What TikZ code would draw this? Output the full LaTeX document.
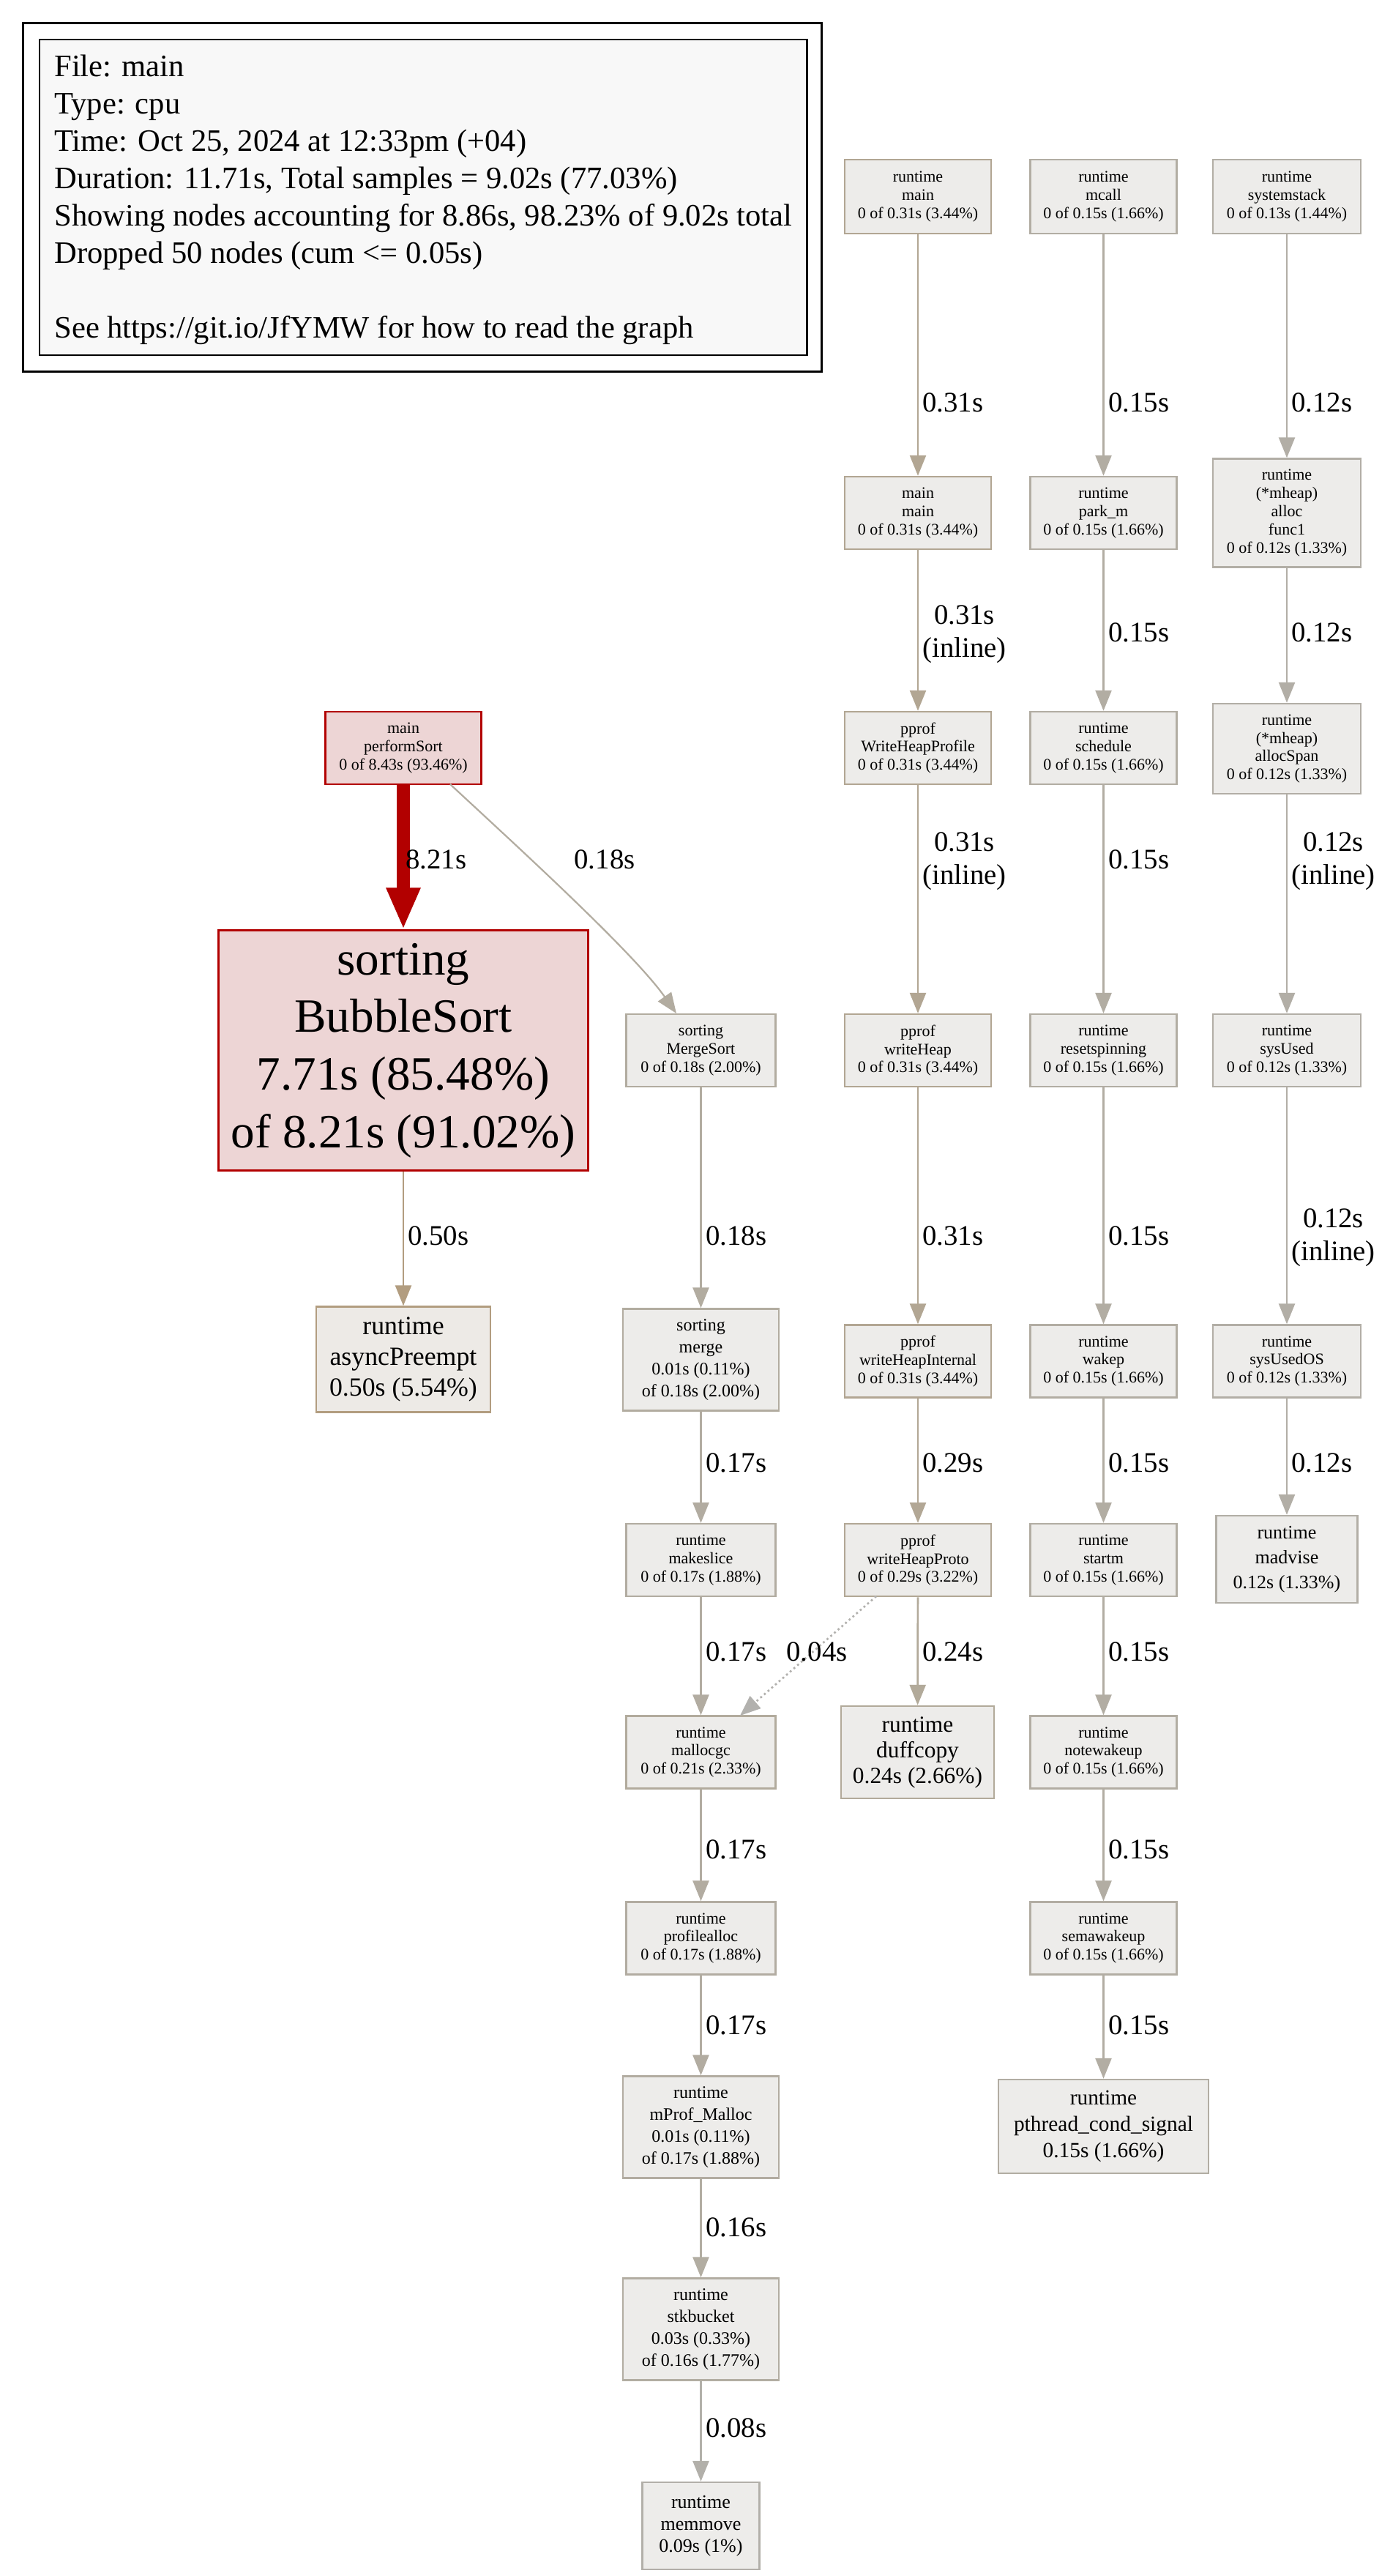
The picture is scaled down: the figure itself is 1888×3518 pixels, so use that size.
\documentclass[tikz,border=0pt]{standalone}
\usepackage{fontspec}
\setmainfont{Liberation Serif}
\usetikzlibrary{arrows.meta}
\definecolor{cFill}{HTML}{EDECEA}
\definecolor{cRedFill}{HTML}{EDD5D5}
\definecolor{cApFill}{HTML}{EDEAE6}
\definecolor{cLegFill}{HTML}{F8F8F8}
\definecolor{cRed}{HTML}{B20000}
\definecolor{cAp}{HTML}{B29D80}
\definecolor{cA}{HTML}{B2A693}
\definecolor{cAp2}{HTML}{B2A795}
\definecolor{cDuff}{HTML}{B2AA9A}
\definecolor{cB}{HTML}{B2ADA3}
\definecolor{cSys}{HTML}{B2AEA5}
\definecolor{cC}{HTML}{B2AEA6}
\definecolor{cMS}{HTML}{B2ACA0}
\definecolor{cMk}{HTML}{B2ACA1}
\definecolor{cMg}{HTML}{B2AB9D}
\definecolor{cStk}{HTML}{B2ADA2}
\definecolor{cMem}{HTML}{B2AFA9}
\definecolor{cE08}{HTML}{B2B0AA}
\definecolor{cE04}{HTML}{B2B1AE}
\newcommand\fsS{\fontsize{11pt}{12.4pt}\selectfont}
\newcommand\fsLeg{\fontsize{21.3pt}{25.5pt}\selectfont}
\newcommand\fsEdge{\fontsize{19.4pt}{22.4pt}\selectfont}
\newcommand\fsBig{\fontsize{32.6pt}{39.3pt}\selectfont}
\newcommand\fsAP{\fontsize{17.9pt}{20.8pt}\selectfont}
\newcommand\fsDuff{\fontsize{15.7pt}{17.5pt}\selectfont}
\newcommand\fsPth{\fontsize{14.7pt}{18pt}\selectfont}
\newcommand\fsMad{\fontsize{13pt}{17pt}\selectfont}
\newcommand\fsMid{\fontsize{12pt}{15pt}\selectfont}
\newcommand\fsMem{\fontsize{13pt}{15pt}\selectfont}
\tikzset{
  gn/.style={draw=#1, fill=cFill, line width=1.25pt, inner sep=0pt, align=center, font=\fsS},
  ea/.style={draw=#1, line width=1.35pt, -{Triangle[length=14pt,width=11pt]}},
  el/.style={font=\fsEdge, align=center, inner sep=0pt, anchor=west},
  elc/.style={font=\fsEdge, align=center, inner sep=0pt},
}
\begin{document}
\begin{tikzpicture}[x=0.5pt,y=-0.5pt]
\useasboundingbox[fill=white] (0,0) rectangle (1888,3518);

% legend
\node[draw=black, line width=1.2pt, fill=white, minimum width=545.5pt, minimum height=238pt, inner sep=0pt] (legout) at (577,269.4) {};
\node[draw=black, line width=1.2pt, fill=cLegFill, minimum width=524.2pt, minimum height=215.5pt, inner sep=0pt] (legin) at (578.1,269.4) {};
\node[anchor=west, align=left, inner sep=0pt, font=\fsLeg] (legtext) at (74,272.8) {File: main\\Type: cpu\\Time: Oct 25, 2024 at 12:33pm (+04)\\Duration: 11.71s, Total samples = 9.02s (77.03\%)\\Showing nodes accounting for 8.86s, 98.23\% of 9.02s total\\Dropped 50 nodes (cum <= 0.05s)\\[25.5pt]See https://git.io/JfYMW for how to read the graph};

% column A
\node[gn=cA, minimum width=100pt, minimum height=50.5pt] (A1) at (1254,268.3) {runtime\\main\\0 of 0.31s (3.44\%)};
\node[gn=cA, minimum width=100pt, minimum height=49.5pt] (A2) at (1254,700.5) {main\\main\\0 of 0.31s (3.44\%)};
\node[gn=cA, minimum width=100pt, minimum height=49.5pt] (A3) at (1254,1021.5) {pprof\\WriteHeapProfile\\0 of 0.31s (3.44\%)};
\node[gn=cA, minimum width=100pt, minimum height=49.5pt] (A4) at (1254,1434.6) {pprof\\writeHeap\\0 of 0.31s (3.44\%)};
\node[gn=cA, minimum width=100pt, minimum height=49.5pt] (A5) at (1254,1859) {pprof\\writeHeapInternal\\0 of 0.31s (3.44\%)};
\node[gn=cAp2, minimum width=100pt, minimum height=49.5pt] (A6) at (1254,2130.6) {pprof\\writeHeapProto\\0 of 0.29s (3.22\%)};
\node[gn=cDuff, font=\fsDuff, minimum width=104.5pt, minimum height=63pt] (A7) at (1253.5,2393) {runtime\\duffcopy\\0.24s (2.66\%)};

% column B
\node[gn=cB, minimum width=100pt, minimum height=50.5pt] (B1) at (1507.5,268.3) {runtime\\mcall\\0 of 0.15s (1.66\%)};
\node[gn=cB, minimum width=100pt, minimum height=49.5pt] (B2) at (1507.5,700.5) {runtime\\park\_m\\0 of 0.15s (1.66\%)};
\node[gn=cB, minimum width=100pt, minimum height=49.5pt] (B3) at (1507.5,1021.5) {runtime\\schedule\\0 of 0.15s (1.66\%)};
\node[gn=cB, minimum width=100pt, minimum height=49.5pt] (B4) at (1507.5,1434.6) {runtime\\resetspinning\\0 of 0.15s (1.66\%)};
\node[gn=cB, minimum width=100pt, minimum height=49.5pt] (B5) at (1507.5,1859) {runtime\\wakep\\0 of 0.15s (1.66\%)};
\node[gn=cB, minimum width=100pt, minimum height=49.5pt] (B6) at (1507.5,2130.6) {runtime\\startm\\0 of 0.15s (1.66\%)};
\node[gn=cB, minimum width=100pt, minimum height=49.5pt] (B7) at (1507.5,2393) {runtime\\notewakeup\\0 of 0.15s (1.66\%)};
\node[gn=cB, minimum width=100pt, minimum height=49.5pt] (B8) at (1507.5,2647) {runtime\\semawakeup\\0 of 0.15s (1.66\%)};
\node[gn=cB, font=\fsPth, minimum width=143.5pt, minimum height=64pt] (B9) at (1507.5,2904) {runtime\\pthread\_cond\_signal\\0.15s (1.66\%)};

% column C
\node[gn=cSys, minimum width=101pt, minimum height=50.5pt] (C1) at (1758,268.3) {runtime\\systemstack\\0 of 0.13s (1.44\%)};
\node[gn=cC, minimum width=101pt, minimum height=74pt] (C2) at (1758,700.5) {runtime\\(*mheap)\\alloc\\func1\\0 of 0.12s (1.33\%)};
\node[gn=cC, minimum width=101pt, minimum height=61.5pt] (C3) at (1758,1022.5) {runtime\\(*mheap)\\allocSpan\\0 of 0.12s (1.33\%)};
\node[gn=cC, minimum width=101pt, minimum height=49.5pt] (C4) at (1758,1434.6) {runtime\\sysUsed\\0 of 0.12s (1.33\%)};
\node[gn=cC, minimum width=101pt, minimum height=49.5pt] (C5) at (1758,1859) {runtime\\sysUsedOS\\0 of 0.12s (1.33\%)};
\node[gn=cC, font=\fsMad, minimum width=96.5pt, minimum height=59.5pt] (C6) at (1758,2129.5) {runtime\\madvise\\0.12s (1.33\%)};

% column D
\node[gn=cMS, minimum width=102pt, minimum height=49.5pt] (D1) at (957.5,1434.6) {sorting\\MergeSort\\0 of 0.18s (2.00\%)};
\node[gn=cMS, font=\fsMid, minimum width=106.5pt, minimum height=69.5pt] (D2) at (957.5,1857) {sorting\\merge\\0.01s (0.11\%)\\of 0.18s (2.00\%)};
\node[gn=cMk, minimum width=102pt, minimum height=49.5pt] (D3) at (957.5,2130.6) {runtime\\makeslice\\0 of 0.17s (1.88\%)};
\node[gn=cMg, minimum width=102pt, minimum height=49.5pt] (D4) at (957.5,2393) {runtime\\mallocgc\\0 of 0.21s (2.33\%)};
\node[gn=cMk, minimum width=102pt, minimum height=49.5pt] (D5) at (957.5,2647) {runtime\\profilealloc\\0 of 0.17s (1.88\%)};
\node[gn=cMk, font=\fsMid, minimum width=106.5pt, minimum height=69.5pt] (D6) at (957.5,2905) {runtime\\mProf\_Malloc\\0.01s (0.11\%)\\of 0.17s (1.88\%)};
\node[gn=cStk, font=\fsMid, minimum width=106.5pt, minimum height=69.5pt] (D7) at (957.5,3181) {runtime\\stkbucket\\0.03s (0.33\%)\\of 0.16s (1.77\%)};
\node[gn=cMem, font=\fsMem, minimum width=80pt, minimum height=59.5pt] (D8) at (957.5,3449.5) {runtime\\memmove\\0.09s (1\%)};

% left
\node[gn=cRed, fill=cRedFill, minimum width=106.5pt, minimum height=49.5pt] (ps) at (551,1021.5) {main\\performSort\\0 of 8.43s (93.46\%)};
\node[gn=cRed, fill=cRedFill, font=\fsBig, minimum width=252.5pt, minimum height=164pt] (bs) at (551,1434.6) {sorting\\BubbleSort\\7.71s (85.48\%)\\of 8.21s (91.02\%)};
\node[gn=cAp, fill=cApFill, font=\fsAP, minimum width=119pt, minimum height=72pt] (ap) at (551,1856.5) {runtime\\asyncPreempt\\0.50s (5.54\%)};

% edges column A
\draw[ea=cA] (A1) -- (A2);
\draw[ea=cA] (A2) -- (A3);
\draw[ea=cA] (A3) -- (A4);
\draw[ea=cA] (A4) -- (A5);
\draw[ea=cAp2] (A5) -- (A6);
\draw[ea=cDuff] (A6) -- (A7);
\node[el] (lA1) at (1260,550) {0.31s};
\node[el] (lA2) at (1260,866) {0.31s\\(inline)};
\node[el] (lA3) at (1260,1176) {0.31s\\(inline)};
\node[el] (lA4) at (1260,1688) {0.31s};
\node[el] (lA5) at (1260,1998) {0.29s};
\node[el] (lA6) at (1260,2256) {0.24s};

% edges column B
\draw[ea=cB] (B1) -- (B2);
\draw[ea=cB] (B2) -- (B3);
\draw[ea=cB] (B3) -- (B4);
\draw[ea=cB] (B4) -- (B5);
\draw[ea=cB] (B5) -- (B6);
\draw[ea=cB] (B6) -- (B7);
\draw[ea=cB] (B7) -- (B8);
\draw[ea=cB] (B8) -- (B9);
\node[el] (lB1) at (1514,550) {0.15s};
\node[el] (lB2) at (1514,864) {0.15s};
\node[el] (lB3) at (1514,1174) {0.15s};
\node[el] (lB4) at (1514,1688) {0.15s};
\node[el] (lB5) at (1514,1998) {0.15s};
\node[el] (lB6) at (1514,2256) {0.15s};
\node[el] (lB7) at (1514,2526) {0.15s};
\node[el] (lB8) at (1514,2766) {0.15s};

% edges column C
\draw[ea=cC] (C1) -- (C2);
\draw[ea=cC] (C2) -- (C3);
\draw[ea=cC] (C3) -- (C4);
\draw[ea=cC] (C4) -- (C5);
\draw[ea=cC] (C5) -- (C6);
\node[el] (lC1) at (1764,550) {0.12s};
\node[el] (lC2) at (1764,864) {0.12s};
\node[el] (lC3) at (1764,1176) {0.12s\\(inline)};
\node[el] (lC4) at (1764,1690) {0.12s\\(inline)};
\node[el] (lC5) at (1764,1998) {0.12s};

% edges column D
\draw[ea=cMS] (D1) -- (D2);
\draw[ea=cMk] (D2) -- (D3);
\draw[ea=cMk] (D3) -- (D4);
\draw[ea=cMk] (D4) -- (D5);
\draw[ea=cMk] (D5) -- (D6);
\draw[ea=cStk] (D6) -- (D7);
\draw[ea=cE08] (D7) -- (D8);
\node[el] (lD1) at (964,1688) {0.18s};
\node[el] (lD2) at (964,1998) {0.17s};
\node[el] (lD3) at (964,2256) {0.17s};
\node[el] (lD4) at (964,2526) {0.17s};
\node[el] (lD5) at (964,2766) {0.17s};
\node[el] (lD6) at (964,3042) {0.16s};
\node[el] (lD7) at (964,3316) {0.08s};

% dotted edge
\coordinate (dS) at (1197,2180);
\coordinate (dE) at (1011,2343);
\draw[draw=cE04, line width=1.35pt, dotted, -{Triangle[length=14pt,width=11pt]}] (dS) -- (dE);
\node[elc] (l04) at (1116,2256) {0.04s};

% left edges
\draw[draw=cRed, line width=9pt, -{Triangle[length=28.5pt,width=21.5pt]}] (ps.south) -- (bs.north);
\node[el] (lR) at (554,1174) {8.21s};
\coordinate (cS) at (615,1071);
\coordinate (cE) at (924,1384);
\draw[draw=cMS, line width=1.1pt, -{Triangle[length=14pt,width=11pt]}] (cS) .. controls (700,1150) and (865,1300) .. (cE);
\node[elc] (lM) at (826,1174) {0.18s};
\draw[ea=cAp] (bs) -- (ap);
\node[el] (lAp) at (557,1688) {0.50s};
\end{tikzpicture}
\end{document}
